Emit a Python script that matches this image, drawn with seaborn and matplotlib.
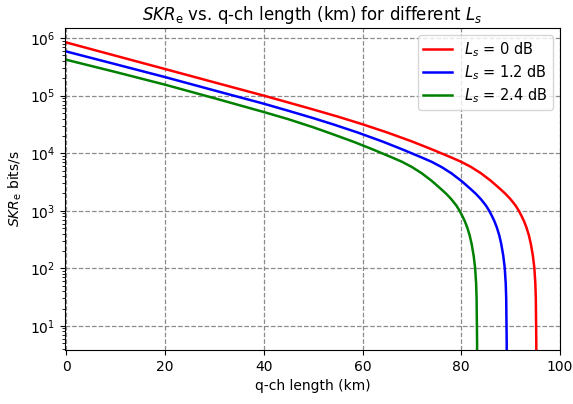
import numpy as np
import pandas as pd
import matplotlib
matplotlib.use("Agg")
import matplotlib.pyplot as plt
import seaborn as sns

# q-ch length (km) and SKR_e (bits/s)
L_red = [0, 10, 20, 30, 40, 45, 50, 55, 60, 65, 70, 74, 78, 80, 82, 84, 86, 88, 89, 90, 91, 91.65,
         92.2, 92.7, 93.2, 93.7, 94.1, 94.5, 94.8, 95.0, 95.1, 95.2, 95.22]
skr_red = [8.39e5, 4.93e5, 2.90e5, 1.70e5, 1.0e5, 7.59e4, 5.75e4, 4.32e4, 3.18e4, 2.29e4, 1.60e4, 1.17e4,
           8.41e3, 7.08e3, 5.75e3, 4.47e3, 3.31e3, 2.34e3, 1.95e3, 1.58e3, 1.23e3, 1.0e3,
           813, 661, 513, 372, 263, 166, 102, 55, 30, 5, 0.1]

L_blue = [0, 10, 20, 30, 40, 45, 50, 54, 59, 64, 68, 72, 74, 76, 78, 80, 82, 83, 84, 85, 85.65,
          86.2, 86.7, 87.2, 87.7, 88.1, 88.5, 88.8, 89.0, 89.1, 89.2, 89.22]
skr_blue = [5.85e5, 3.51e5, 2.10e5, 1.23e5, 7.24e4, 5.45e4, 4.07e4, 3.18e4, 2.29e4, 1.60e4, 1.17e4, 8.41e3,
            7.08e3, 5.75e3, 4.47e3, 3.31e3, 2.34e3, 1.95e3, 1.58e3, 1.23e3, 1.0e3,
            813, 661, 513, 372, 263, 166, 102, 55, 30, 5, 0.1]

L_green = [0, 10, 20, 30, 40, 45, 50, 53, 58, 62, 66, 68, 70, 72, 74, 76, 77, 78, 79, 79.65,
           80.2, 80.7, 81.2, 81.7, 82.1, 82.5, 82.8, 83.0, 83.1, 83.2, 83.22]
skr_green = [4.2e5, 2.57e5, 1.55e5, 9.02e4, 5.19e4, 3.89e4, 2.82e4, 2.29e4, 1.60e4, 1.17e4, 8.41e3,
             7.08e3, 5.75e3, 4.47e3, 3.31e3, 2.34e3, 1.95e3, 1.58e3, 1.23e3, 1.0e3,
             813, 661, 513, 372, 263, 166, 102, 55, 30, 5, 0.1]

labels = [r'$L_s$ = 0 dB', r'$L_s$ = 1.2 dB', r'$L_s$ = 2.4 dB']
colors = ['red', 'blue', 'green']

frames = []
for lab, xs, ys in zip(labels, [L_red, L_blue, L_green], [skr_red, skr_blue, skr_green]):
    frames.append(pd.DataFrame({'L': xs, 'SKR': ys, 'series': lab}))
df = pd.concat(frames, ignore_index=True)

fig = plt.figure(figsize=(5.73, 4.04), dpi=100)
ax = fig.add_axes([65/573, 1 - 350/404, (560 - 65)/573, (350 - 28)/404])

sns.lineplot(data=df, x='L', y='SKR', hue='series', palette=dict(zip(labels, colors)),
             hue_order=labels, estimator=None, sort=False, linewidth=1.8, ax=ax)

ax.set_yscale('log')
ax.set_xlim(-0.3, 100)
ax.set_ylim(3.8, 1.5e6)
ax.grid(True, which='major', linestyle='--', color='gray', linewidth=0.9, alpha=0.9)
ax.set_xticks([0, 20, 40, 60, 80, 100])
ax.tick_params(labelsize=10)
ax.set_xlabel('q-ch length (km)', fontsize=10)
ax.set_ylabel(r'$SKR_{\rm e}$ bits/s', fontsize=10)
ax.set_title(r'$SKR_{\rm e}$ vs. q-ch length (km) for different $L_s$', fontsize=12)
ax.legend(loc='upper right', fontsize=10.5, title=None, labelspacing=0.3,
          borderpad=0.35, handletextpad=0.8, borderaxespad=0.5)

fig.savefig('out.png', dpi=100)
